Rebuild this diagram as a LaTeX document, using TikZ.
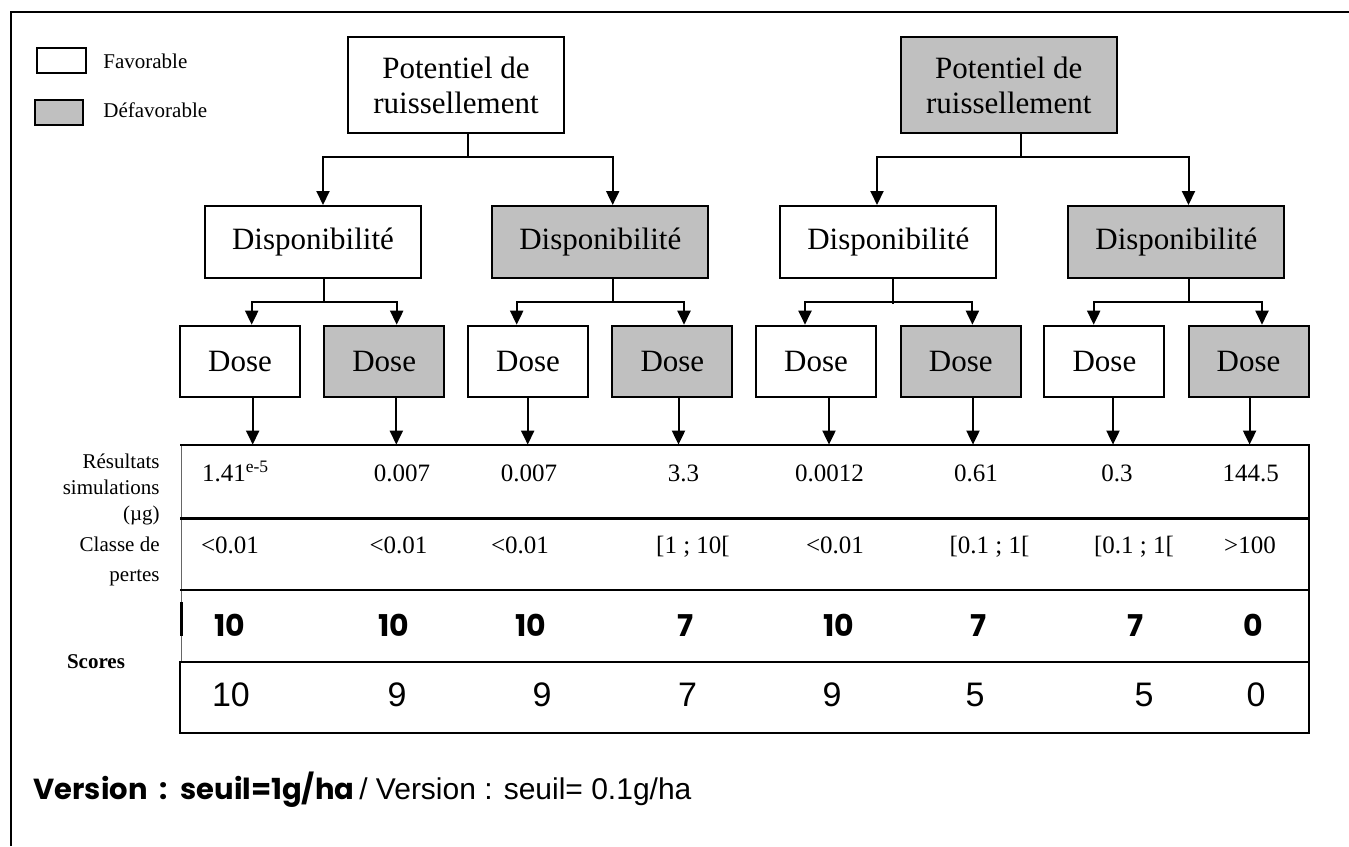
\documentclass[tikz,border=0pt]{standalone}
\usepackage{fontspec}
\setmainfont{Liberation Serif}
\newfontfamily\arialf{Liberation Sans}
\newfontfamily\comicf{Poppins}
\usetikzlibrary{arrows.meta,calc}
\definecolor{boxgray}{HTML}{C0C0C0}
\begin{document}
\begin{tikzpicture}[x=0.5pt,y=-0.5pt,
  box/.style={draw,line width=1pt,inner sep=0pt,align=center,font=\fontsize{15.5}{17.5}\selectfont},
  fav/.style={box,fill=white},
  defav/.style={box,fill=boxgray},
  potbox/.style={minimum width=108pt,minimum height=48pt},
  dispbox/.style={minimum width=108pt,minimum height=36pt},
  dosebox/.style={minimum width=60pt,minimum height=35.8pt},
  ln/.style={line width=1pt},
  arr/.style={line width=1pt,-{Triangle[length=7pt,width=6.5pt]}},
  val/.style={anchor=base,inner sep=0pt,font=\fontsize{12.5}{14}\selectfont},
  sc/.style={anchor=base,inner sep=0pt,font=\comicf\bfseries\fontsize{15}{17}\selectfont},
  scb/.style={anchor=base,inner sep=0pt,font=\arialf\fontsize{17}{19}\selectfont},
  lab/.style={anchor=east,align=right,inner sep=0pt},
  leg/.style={anchor=west,inner sep=0pt,font=\fontsize{10.5}{12}\selectfont},
]
\useasboundingbox (0,0) rectangle (1349,846);
% outer frame (top and left edges)
\draw[line width=1pt] (11,846) -- (11,12) -- (1349,12);

% legend
\node[fav,minimum width=24.5pt,minimum height=12.5pt] (legF) at (61.5,60.5) {};
\node[defav,minimum width=24pt,minimum height=12.5pt] (legD) at (59,112.5) {};
\node[leg] (legFt) at (103,61) {Favorable};
\node[leg] (legDt) at (103,110) {Défavorable};

% level 1
\node[fav,potbox] (PL) at (456,85) {Potentiel de\\ruissellement};
\node[defav,potbox] (PR) at (1008.8,85) {Potentiel de\\ruissellement};

% level 2
\node[fav,dispbox] (A1) at (313,242) {Disponibilité};
\node[defav,dispbox] (A2) at (600.3,242) {Disponibilité};
\node[fav,dispbox] (A3) at (888.3,242) {Disponibilité};
\node[defav,dispbox] (A4) at (1176.3,242) {Disponibilité};

% level 3
\node[fav,dosebox] (D1) at (240,361.5) {Dose};
\node[defav,dosebox] (D2) at (384.2,361.5) {Dose};
\node[fav,dosebox] (D3) at (528,361.5) {Dose};
\node[defav,dosebox] (D4) at (672.4,361.5) {Dose};
\node[fav,dosebox] (D5) at (816,361.5) {Dose};
\node[defav,dosebox] (D6) at (960.8,361.5) {Dose};
\node[fav,dosebox] (D7) at (1104.4,361.5) {Dose};
\node[defav,dosebox] (D8) at (1248.5,361.5) {Dose};

% table
\node[inner sep=0pt,minimum width=564.5pt,minimum height=144pt] (tab) at (744.5,589) {};
\draw[line width=0.5pt,black!60] (181,445) -- (181,662);
\draw[line width=1.2pt] (180,445) -- (1309,445) -- (1309,662);
\draw[line width=1.2pt] (180,518.3) -- (1309,518.3);
\draw[line width=1.2pt] (180,590) -- (1309,590);
\draw[line width=1.2pt] (180,662) rectangle (1309,733);
\draw[line width=1.5pt] (181,602) -- (181,636);

% connectors level 1 -> 2
\coordinate (jL) at (468,157);
\draw[ln] (468,0 |- PL.south) -- (jL);
\draw[arr] (jL) -| (323,0 |- A1.north);
\draw[arr] (jL) -| (612.7,0 |- A2.north);
\coordinate (jR) at (1021,157);
\draw[ln] (1021,0 |- PR.south) -- (jR);
\draw[arr] (jR) -| (877,0 |- A3.north);
\draw[arr] (jR) -| (1188.5,0 |- A4.north);

% connectors level 2 -> 3
\coordinate (j1) at (324.3,301.7);
\draw[ln] (324.3,0 |- A1.south) -- (j1);
\draw[arr] (j1) -| (251.7,0 |- D1.north);
\draw[arr] (j1) -| (396.7,0 |- D2.north);
\coordinate (j2) at (612.7,301.7);
\draw[ln] (612.7,0 |- A2.south) -- (j2);
\draw[arr] (j2) -| (516.7,0 |- D3.north);
\draw[arr] (j2) -| (684,0 |- D4.north);
\coordinate (j3) at (892.9,301.7);
\draw[ln] (892.9,0 |- A3.south) -- (892.9,304);
\draw[arr] (j3) -| (805,0 |- D5.north);
\draw[arr] (j3) -| (972.4,0 |- D6.north);
\coordinate (j4) at (1188.6,301.7);
\draw[ln] (1188.6,0 |- A4.south) -- (j4);
\draw[arr] (j4) -| (1093.7,0 |- D7.north);
\draw[arr] (j4) -| (1262,0 |- D8.north);

% connectors level 3 -> table
\draw[arr] (252.7,0 |- D1.south) -- (252.7,0 |- tab.north);
\draw[arr] (396.3,0 |- D2.south) -- (396.3,0 |- tab.north);
\draw[arr] (527.7,0 |- D3.south) -- (527.7,0 |- tab.north);
\draw[arr] (678.5,0 |- D4.south) -- (678.5,0 |- tab.north);
\draw[arr] (829,0 |- D5.south) -- (829,0 |- tab.north);
\draw[arr] (973,0 |- D6.south) -- (973,0 |- tab.north);
\draw[arr] (1113,0 |- D7.south) -- (1113,0 |- tab.north);
\draw[arr] (1249.6,0 |- D8.south) -- (1249.6,0 |- tab.north);

% row labels
\node[lab,font=\fontsize{10.5}{13}\selectfont] (l1) at (160,489) {Résultats\\simulations\\(µg)};
\node[lab,font=\fontsize{10.5}{15}\selectfont] (l2) at (160,561) {Classe de\\pertes};
\node[inner sep=0pt,font=\bfseries\fontsize{10.5}{12}\selectfont] (l3) at (96,662) {Scores};

% row 1
\node[val,anchor=base west] (r1c1) at (201.7,481.7) {1.41\textsuperscript{e-5}};
\node[val] (r1c2) at (402,481.7) {0.007};
\node[val] (r1c3) at (529,481.7) {0.007};
\node[val] (r1c4) at (683.5,481.7) {3.3};
\node[val] (r1c5) at (829.5,481.7) {0.0012};
\node[val] (r1c6) at (976,481.7) {0.61};
\node[val] (r1c7) at (1117,481.7) {0.3};
\node[val] (r1c8) at (1250.7,481.7) {144.5};
% row 2
\node[val] (r2c1) at (230,553.3) {<0.01};
\node[val] (r2c2) at (398.5,553.3) {<0.01};
\node[val] (r2c3) at (520,553.3) {<0.01};
\node[val] (r2c4) at (693,553.3) {[1 ; 10[};
\node[val] (r2c5) at (835,553.3) {<0.01};
\node[val] (r2c6) at (989.5,553.3) {[0.1 ; 1[};
\node[val] (r2c7) at (1134,553.3) {[0.1 ; 1[};
\node[val] (r2c8) at (1250,553.3) {>100};
% row 3
\node[sc] (r3c1) at (230,636) {10};
\node[sc] (r3c2) at (394,636) {10};
\node[sc] (r3c3) at (531,636) {10};
\node[sc] (r3c4) at (686,636) {7};
\node[sc] (r3c5) at (839,636) {10};
\node[sc] (r3c6) at (979,636) {7};
\node[sc] (r3c7) at (1136,636) {7};
\node[sc] (r3c8) at (1253,636) {0};
% row 4
\node[scb] (r4c1) at (231,706.7) {10};
\node[scb] (r4c2) at (397,706.7) {9};
\node[scb] (r4c3) at (542,706.7) {9};
\node[scb] (r4c4) at (687.5,706.7) {7};
\node[scb] (r4c5) at (832,706.7) {9};
\node[scb] (r4c6) at (975,706.7) {5};
\node[scb] (r4c7) at (1144,706.7) {5};
\node[scb] (r4c8) at (1256,706.7) {0};

% bottom line
\node[anchor=base west,inner sep=0pt] (ver) at (33,799) {{\comicf\bfseries\fontsize{14.5}{16}\selectfont Version\ \ :\ \ seuil=1g/ha} {\arialf\fontsize{15}{17}\selectfont / Version : seuil= 0.1g/ha}};
\end{tikzpicture}
\end{document}
